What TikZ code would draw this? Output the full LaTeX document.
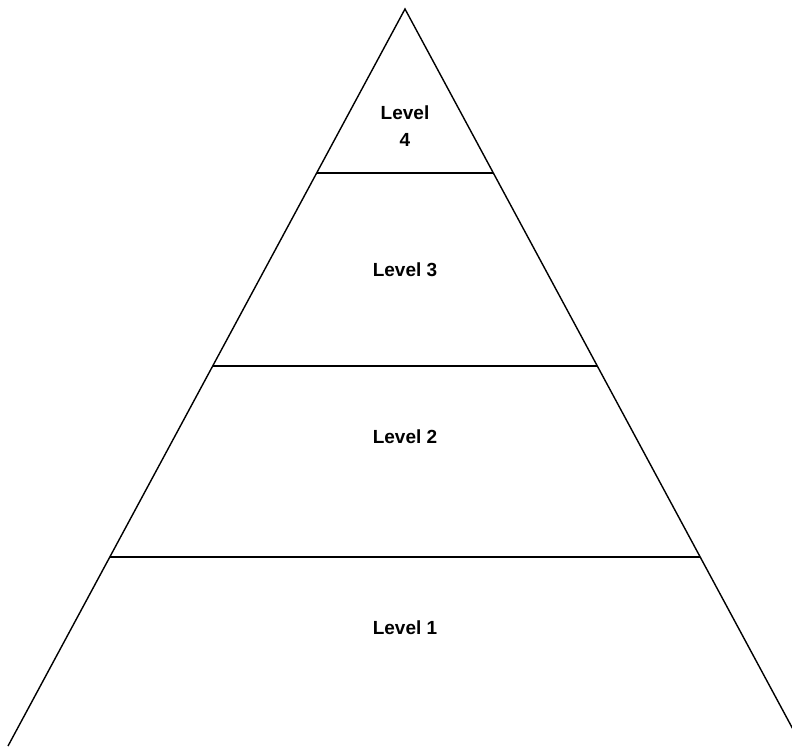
\documentclass[tikz,border=0pt]{standalone}
\usepackage{fontspec}
\setmainfont{Liberation Sans}
\usepackage{tikz}
\usetikzlibrary{calc}

\begin{document}
\begin{tikzpicture}[x=1pt,y=-1pt]
  % Frame of the picture (pixel units, y going down)
  \useasboundingbox (0,0) rectangle (792,747);
  \clip (0,0) rectangle (792,747);
  \tikzset{lvl/.style={font=\bfseries\fontsize{19}{27}\selectfont, align=center, inner sep=0pt}}
  % Pyramid corners
  \coordinate (T) at (405,9);
  \coordinate (L) at (8,746);
  \coordinate (R) at (802,746);
  \draw[line width=1.4pt] (L) -- (T) -- (R);
  % Level dividers, cut where they meet the sides
  \foreach \y [count=\i] in {173,366,557} {
    \pgfmathsetmacro{\t}{(\y-9)/737}
    \coordinate (A\i) at ($(T)!\t!(L)$);
    \coordinate (B\i) at ($(T)!\t!(R)$);
    \draw[line width=2pt] (A\i) -- (B\i);
  }
  % Labels (base of the last line)
  \node[lvl, anchor=base] (lv4) at (405,146) {Level\\4};
  \node[lvl, anchor=base] (lv3) at (405,276) {Level 3};
  \node[lvl, anchor=base] (lv2) at (405,443) {Level 2};
  \node[lvl, anchor=base] (lv1) at (405,634) {Level 1};
\end{tikzpicture}
\end{document}
